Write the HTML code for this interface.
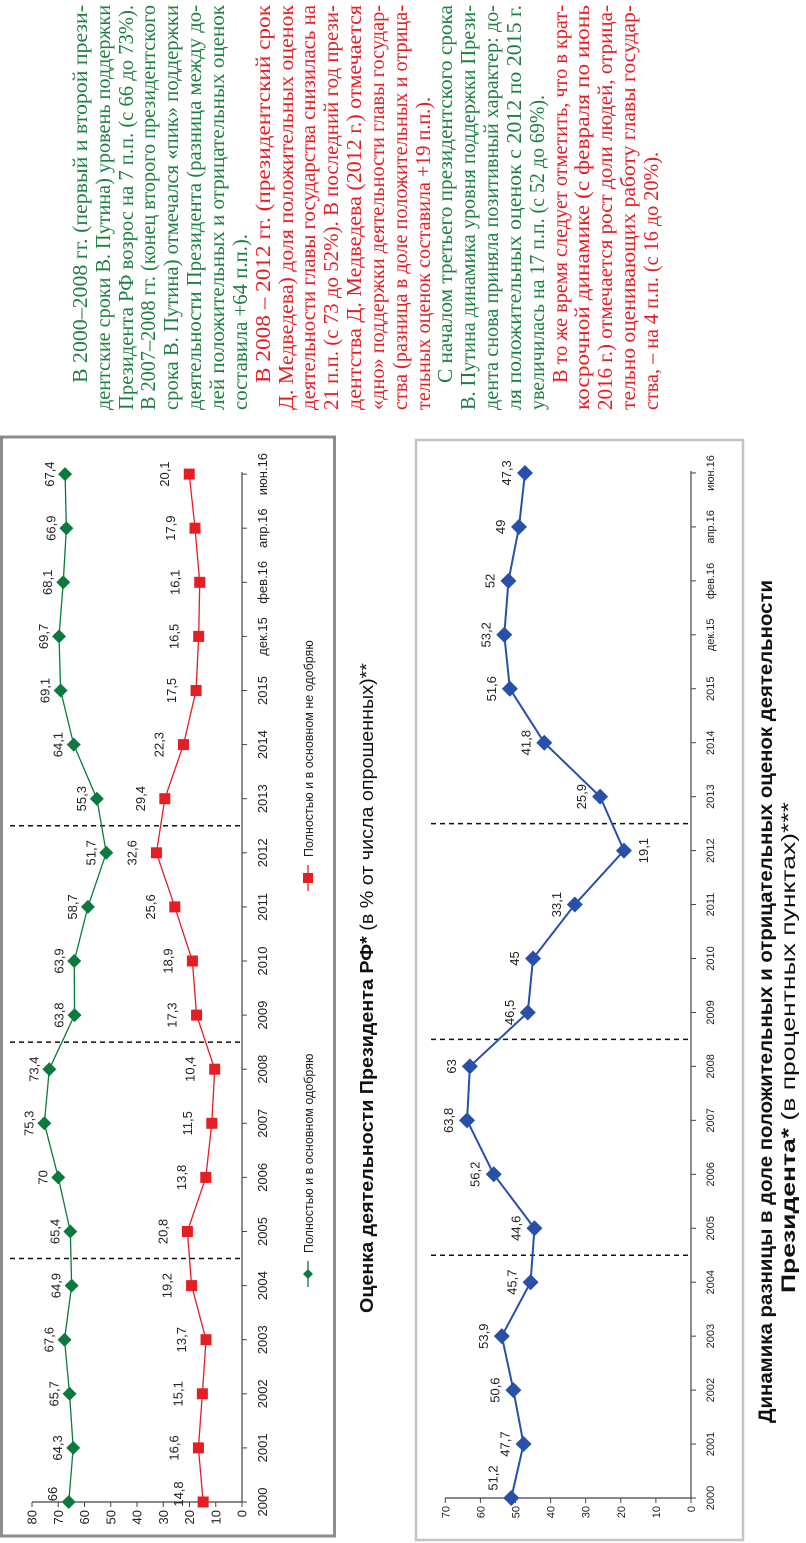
<!DOCTYPE html>
<html><head><meta charset="utf-8">
<style>
html,body{margin:0;padding:0;background:#fff;}
body{width:806px;height:1543px;overflow:hidden;position:relative;}
#land{position:absolute;left:0;top:0;width:1543px;height:806px;transform-origin:0 0;transform:translateY(1543px) rotate(-90deg);}
svg text{font-family:"Liberation Sans",sans-serif;}
svg .para text{font-family:"Liberation Serif",serif;font-size:21.5px;}
.g{fill:#1f7f42;} .r{fill:#e31e24;}
</style></head>
<body>
<div id="land">
<svg id="svg" width="1543" height="806" viewBox="0 0 1543 806" xmlns="http://www.w3.org/2000/svg">
  <rect x="0" y="0" width="1543" height="806" fill="#fff"/>
  <rect x="7" y="1.5" width="1099" height="333" fill="none" stroke="#8c8c8c" stroke-width="3"/>
  <rect x="3" y="416" width="1100" height="327" fill="none" stroke="#c4c4c4" stroke-width="2.5"/>
  <g id="c1"></g>
  <g id="c2"></g>
  <text x="230" y="373" font-size="18" textLength="650" lengthAdjust="spacingAndGlyphs" fill="#111"><tspan font-weight="bold">Оценка деятельности Президента РФ*</tspan> (в % от числа опрошенных)**</text>
  <text x="120" y="772" font-size="19" font-weight="bold" textLength="843" lengthAdjust="spacingAndGlyphs" fill="#111">Динамика разницы в доле положительных и отрицательных оценок деятельности</text>
  <text x="250" y="795" font-size="19" textLength="491" lengthAdjust="spacingAndGlyphs" fill="#111"><tspan font-weight="bold">Президента*</tspan> (в процентных пунктах)***</text>
  <g>
    <line x1="256" y1="308" x2="282" y2="308" stroke="#0b7a3c" stroke-width="1.3"/>
    <path d="M269 303 L274 308 L269 313 L264 308 Z" fill="#0b7a3c"/>
    <text x="290" y="313" font-size="12.5" fill="#222">Полностью и в основном одобряю</text>
    <line x1="652" y1="308" x2="678" y2="308" stroke="#e31e24" stroke-width="1.3"/>
    <rect x="660" y="303" width="10" height="10" fill="#e31e24"/>
    <text x="686" y="313" font-size="12.5" fill="#222">Полностью и в основном не одобряю</text>
  </g>
  <g class="para">
    <text class="g" x="1160" y="87" textLength="378" lengthAdjust="spacingAndGlyphs">В 2000–2008 гг. (первый и второй прези-</text>
    <text class="g" x="1133" y="110" textLength="405" lengthAdjust="spacingAndGlyphs">дентские сроки В. Путина) уровень поддержки</text>
    <text class="g" x="1133" y="133" textLength="405" lengthAdjust="spacingAndGlyphs">Президента РФ возрос на 7 п.п. (с 66 до 73%).</text>
    <text class="g" x="1133" y="155" textLength="405" lengthAdjust="spacingAndGlyphs">В 2007–2008 гг. (конец второго президентского</text>
    <text class="g" x="1133" y="178" textLength="405" lengthAdjust="spacingAndGlyphs">срока В. Путина) отмечался «пик» поддержки</text>
    <text class="g" x="1133" y="201" textLength="405" lengthAdjust="spacingAndGlyphs">деятельности Президента (разница между до-</text>
    <text class="g" x="1133" y="224" textLength="405" lengthAdjust="spacingAndGlyphs">лей положительных и отрицательных оценок</text>
    <text class="g" x="1133" y="247" textLength="176" lengthAdjust="spacingAndGlyphs">составила +64 п.п.).</text>
    <text class="r" x="1160" y="270" textLength="378" lengthAdjust="spacingAndGlyphs">В 2008 – 2012 гг. (президентский срок</text>
    <text class="r" x="1133" y="293" textLength="405" lengthAdjust="spacingAndGlyphs">Д. Медведева) доля положительных оценок</text>
    <text class="r" x="1133" y="315" textLength="405" lengthAdjust="spacingAndGlyphs">деятельности главы государства снизилась на</text>
    <text class="r" x="1133" y="338" textLength="405" lengthAdjust="spacingAndGlyphs">21 п.п. (с 73 до 52%). В последний год прези-</text>
    <text class="r" x="1133" y="361" textLength="405" lengthAdjust="spacingAndGlyphs">дентства Д. Медведева (2012 г.) отмечается</text>
    <text class="r" x="1133" y="384" textLength="405" lengthAdjust="spacingAndGlyphs">«дно» поддержки деятельности главы государ-</text>
    <text class="r" x="1133" y="407" textLength="405" lengthAdjust="spacingAndGlyphs">ства (разница в доле положительных и отрица-</text>
    <text class="r" x="1133" y="430" textLength="313" lengthAdjust="spacingAndGlyphs">тельных оценок составила +19 п.п.).</text>
    <text class="g" x="1160" y="452" textLength="378" lengthAdjust="spacingAndGlyphs">С началом третьего президентского срока</text>
    <text class="g" x="1133" y="475" textLength="405" lengthAdjust="spacingAndGlyphs">В. Путина динамика уровня поддержки Прези-</text>
    <text class="g" x="1133" y="498" textLength="405" lengthAdjust="spacingAndGlyphs">дента снова приняла позитивный характер: до-</text>
    <text class="g" x="1133" y="521" textLength="405" lengthAdjust="spacingAndGlyphs">ля положительных оценок с 2012 по 2015 г.</text>
    <text class="g" x="1133" y="544" textLength="315" lengthAdjust="spacingAndGlyphs">увеличилась на 17 п.п. (с 52 до 69%).</text>
    <text class="r" x="1160" y="567" textLength="378" lengthAdjust="spacingAndGlyphs">В то же время следует отметить, что в крат-</text>
    <text class="r" x="1133" y="589" textLength="405" lengthAdjust="spacingAndGlyphs">косрочной динамике (с февраля по июнь</text>
    <text class="r" x="1133" y="612" textLength="405" lengthAdjust="spacingAndGlyphs">2016 г.) отмечается рост доли людей, отрица-</text>
    <text class="r" x="1133" y="635" textLength="405" lengthAdjust="spacingAndGlyphs">тельно оценивающих работу главы государ-</text>
    <text class="r" x="1133" y="658" textLength="258" lengthAdjust="spacingAndGlyphs">ства, – на 4 п.п. (с 16 до 20%).</text>
  </g>
</svg>
</div>
<script>
const categories = ["2000","2001","2002","2003","2004","2005","2006","2007","2008","2009","2010","2011","2012","2013","2014","2015","дек.15","фев.16","апр.16","июн.16"];
const approve = [66,64.3,65.7,67.6,64.9,65.4,70,75.3,73.4,63.8,63.9,58.7,51.7,55.3,64.1,69.1,69.7,68.1,66.9,67.4];
const disapprove = [14.8,16.6,15.1,13.7,19.2,20.8,13.8,11.5,10.4,17.3,18.9,25.6,32.6,29.4,22.3,17.5,16.5,16.1,17.9,20.1];
const difference = [51.2,47.7,50.6,53.9,45.7,44.6,56.2,63.8,63,46.5,45,33.1,19.1,25.9,41.8,51.6,53.2,52,49,47.3];
const ticks1 = [0,10,20,30,40,50,60,70,80];
const ticks2 = [0,10,20,30,40,50,60,70];
const termBreaks = [4.5,8.5,12.5];

const NS = "http://www.w3.org/2000/svg";
function mk(parent, tag, attrs, txt){
  const e = document.createElementNS(NS, tag);
  for (const k in attrs) e.setAttribute(k, attrs[k]);
  if (txt !== undefined) e.textContent = txt;
  parent.appendChild(e);
  return e;
}
function fmt(v){ return String(v).replace('.', ','); }

const x1 = i => 41 + i * 54.1;
const y1 = v => 242 - v * 2.625;
const x2 = i => 45 + i * 53.95;
const y2 = v => 691 - v * 3.51;

const c1 = document.getElementById('c1');
const c2 = document.getElementById('c2');

function axes(g, xs, ys, ticks, x0, yTop, yBase, fs, tickLblY, labelFs){
  const ax = mk(g, 'line', {x1:x0, y1:yTop, x2:x0, y2:yBase, stroke:'#444', 'stroke-width':1.2});
  
  
  ticks.forEach(t => {
    mk(g, 'line', {x1:x0-5, y1:ys(t), x2:x0, y2:ys(t), stroke:'#444', 'stroke-width':1});
    const l = mk(g, 'text', {x:x0-8, y:ys(t)+fs*0.36, 'font-size':fs, 'text-anchor':'end', fill:'#222'}, String(t));
    
    
  });
  const xa = mk(g, 'line', {x1:x0, y1:yBase, x2:xs(categories.length-1)+2, y2:yBase, stroke:'#444', 'stroke-width':1.2});
  
  
  categories.forEach((c, i) => {
    mk(g, 'line', {x1:xs(i), y1:yBase, x2:xs(i), y2:yBase+5, stroke:'#444', 'stroke-width':1});
    const l = mk(g, 'text', {x:xs(i), y:tickLblY, 'font-size':labelFs, 'text-anchor':'middle', fill:'#222'}, c);
    
    
  });
}

function series(g, xs, ys, vals, color, width, shape, size, labelOff, name, special){
  const pts = vals.map((v, i) => xs(i) + ',' + ys(v)).join(' ');
  const pl = mk(g, 'polyline', {points:pts, fill:'none', stroke:color, 'stroke-width':width});
  
  
  vals.forEach((v, i) => {
    const cx = xs(i), cy = ys(v);
    let m;
    if (shape === 'diamond') {
      m = mk(g, 'path', {d:`M${cx} ${cy-size} L${cx+size} ${cy} L${cx} ${cy+size} L${cx-size} ${cy} Z`, fill:color});
    } else {
      m = mk(g, 'rect', {x:cx-size, y:cy-size, width:size*2, height:size*2, fill:color});
    }
    
    
    let lx = cx, ly = cy + labelOff;
    if (special && special[i]) { lx += special[i][0]; ly = cy + special[i][1]; }
    const t = mk(g, 'text', {x:lx, y:ly, 'font-size':13, 'text-anchor':'middle', fill:'#222'}, fmt(v));
    
    
  });
}

axes(c1, x1, y1, ticks1, 41, 32, 242, 13, 267, 13);
termBreaks.forEach(b => {
  const d = mk(c1, 'line', {x1:x1(b), y1:10, x2:x1(b), y2:240, stroke:'#111', 'stroke-width':1.5, 'stroke-dasharray':'5,4'});
  
  
});
series(c1, x1, y1, approve, '#0b7a3c', 1.3, 'diamond', 7, -11, 'approve', {0:[8,-12]});
series(c1, x1, y1, disapprove, '#e31e24', 1.3, 'square', 5.5, -20, 'disapprove', {0:[8,-20]});

axes(c2, x2, y2, ticks2, 45, 445, 691, 11, 714, 11);
termBreaks.forEach(b => {
  const d = mk(c2, 'line', {x1:x2(b), y1:431, x2:x2(b), y2:689, stroke:'#111', 'stroke-width':1.5, 'stroke-dasharray':'5,4'});
  
  
});
series(c2, x2, y2, difference, '#2850a8', 2, 'diamond', 8, -14, 'difference', {0:[20,-14], 12:[0,24]});
</script>
</body></html>
